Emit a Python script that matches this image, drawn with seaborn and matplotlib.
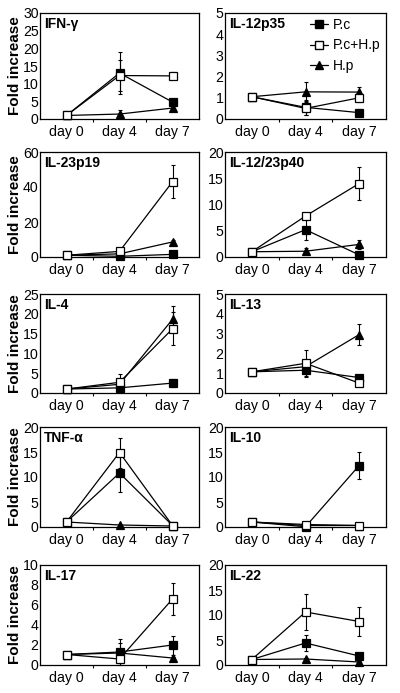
import matplotlib
matplotlib.use("Agg")
import matplotlib.pyplot as plt
import seaborn as sns
import numpy as np
from matplotlib.lines import Line2D

sns.set_style("ticks")
plt.rcParams['font.family'] = ['Liberation Sans', 'DejaVu Sans']
plt.rcParams['text.color'] = 'black'
plt.rcParams['axes.labelcolor'] = 'black'
plt.rcParams['xtick.color'] = 'black'
plt.rcParams['ytick.color'] = 'black'

days = ["day 0", "day 4", "day 7"]
groups = ["P.c", "P.c+H.p", "H.p"]

titles = ["IFN-γ", "IL-12p35", "IL-23p19", "IL-12/23p40", "IL-4",
          "IL-13", "TNF-α", "IL-10", "IL-17", "IL-22"]
ymax = [30, 5, 60, 20, 25, 5, 20, 20, 10, 20]
ystep = [5, 1, 20, 5, 5, 1, 5, 5, 2, 5]

pc_vals = [[1, 13, 4.8], [1.05, 0.55, 0.3], [1, 0.4, 1.5], [1, 5.2, 0.4], [1, 1.3, 2.5],
           [1.07, 1.15, 0.78], [1, 10.8, 0.3], [1, 0.05, 12.3], [1.05, 1.3, 2.0], [1.1, 4.4, 1.8]]
pc_err = [[0.3, 6, 0.8], [0.05, 0.35, 0.15], [0.2, 0.3, 0.5], [0.1, 2.0, 0.2], [0.2, 0.4, 1.0],
          [0.05, 0.35, 0.1], [0.1, 3.7, 0.1], [0.1, 0.1, 2.7], [0.05, 1.3, 0.95], [0.1, 1.6, 0.3]]
pchp_vals = [[1, 12.3, 12.2], [1.05, 0.5, 1.0], [1, 3.2, 43], [1, 7.8, 14], [1, 2.7, 16.2],
             [1.07, 1.5, 0.5], [1, 14.9, 0.3], [1, 0.5, 0.3], [1.05, 0.6, 6.6], [1.1, 10.6, 8.7]]
pchp_err = [[0.3, 4.5, 1.0], [0.05, 0.3, 0.2], [0.3, 0.8, 9.5], [0.1, 0.5, 3.1], [0.2, 2.0, 4.2],
            [0.05, 0.65, 0.1], [0.1, 3.0, 0.1], [0.1, 0.2, 0.1], [0.05, 0.2, 1.6], [0.1, 3.6, 2.9]]
hp_vals = [[1, 1.4, 3.1], [1.05, 1.28, 1.27], [1, 1.8, 8.6], [1, 1.1, 2.4], [1, 2.2, 18.6],
           [1.07, 1.33, 2.95], [1, 0.4, 0.2], [1, 0.3, 0.3], [1.05, 1.2, 0.7], [1.1, 1.2, 0.6]]
hp_err = [[0.2, 1.1, 0.5], [0.05, 0.45, 0.25], [0.2, 0.5, 1.0], [0.1, 0.6, 0.9], [0.2, 0.5, 3.3],
          [0.05, 0.3, 0.55], [0.1, 0.1, 0.1], [0.1, 0.1, 0.1], [0.05, 1.0, 0.1], [0.1, 0.3, 0.2]]

styles = {
    "P.c": dict(marker='s', mfc='black', z=3),
    "P.c+H.p": dict(marker='s', mfc='white', z=5),
    "H.p": dict(marker='^', mfc='black', z=4),
}

W, H = 400, 693
fig = plt.figure(figsize=(W / 100, H / 100), dpi=100)

col_x = [(40, 199), (225, 386)]
rows = [(13, 119), (152, 257), (294, 393), (427, 527), (565, 665)]

xpos = np.arange(len(days))
for i, title in enumerate(titles):
    r, c = divmod(i, 2)
    x0, x1 = col_x[c]
    t, b = rows[r]
    ax = fig.add_axes([x0 / W, 1 - b / H, (x1 - x0) / W, (b - t) / H])
    data = {"P.c": (pc_vals[i], pc_err[i]),
            "P.c+H.p": (pchp_vals[i], pchp_err[i]),
            "H.p": (hp_vals[i], hp_err[i])}
    for g in ["P.c", "H.p", "P.c+H.p"]:
        v, e = data[g]
        st = styles[g]
        ax.errorbar(xpos, v, yerr=e, fmt='none', ecolor='black', elinewidth=0.8,
                    capsize=1.5, capthick=0.8, zorder=st['z'] - 0.5, clip_on=False)
        sns.lineplot(x=xpos, y=v, ax=ax, color='black', marker=st['marker'],
                     markerfacecolor=st['mfc'], markeredgecolor='black',
                     markeredgewidth=0.9, markersize=5.5, linewidth=0.9,
                     zorder=st['z'], clip_on=False, legend=False)
    ax.set_xlim(-0.5, 2.5)
    ax.set_ylim(0, ymax[i])
    ax.set_yticks(np.arange(0, ymax[i] + 0.001, ystep[i]))
    ax.set_yticklabels([str(int(v)) for v in np.arange(0, ymax[i] + 0.001, ystep[i])])
    ax.set_xticks(xpos)
    ax.set_xticklabels(days)
    ax.set_xticks([0.5, 1.5], minor=True)
    ax.tick_params(axis='x', which='major', length=0, pad=4, labelsize=10.2)
    ax.tick_params(axis='x', which='minor', length=2.5, width=0.8, direction='out')
    ax.tick_params(axis='y', which='major', length=0, pad=1, labelsize=10.2)
    for sp in ax.spines.values():
        sp.set_visible(True)
        sp.set_linewidth(0.9)
        sp.set_color('black')
    ax.set_xlabel("")
    if c == 0:
        ax.set_ylabel("Fold increase", fontsize=11, fontweight='bold')
        ax.yaxis.set_label_coords(-0.115, 0.5)
    else:
        ax.set_ylabel("")
    ax.text(0.025, 0.96, title, transform=ax.transAxes, ha='left', va='top',
            fontsize=10, fontweight='bold')
    if i == 1:
        handles = [Line2D([], [], color='black', marker=styles[g]['marker'],
                          markerfacecolor=styles[g]['mfc'], markeredgecolor='black',
                          markersize=5.5, linewidth=0.9) for g in groups]
        ax.legend(handles, groups, loc='upper right', bbox_to_anchor=(1.02, 1.03),
                  frameon=False, fontsize=10, handlelength=1.3, handletextpad=0.4,
                  labelspacing=0.45, borderaxespad=0.2)

fig.savefig("out.png", dpi=100)
